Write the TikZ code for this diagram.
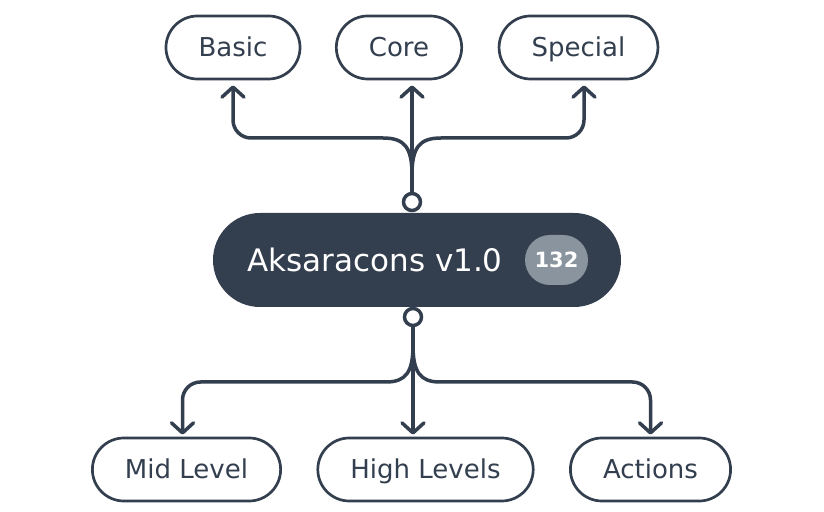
\documentclass[tikz,border=0pt]{standalone}
\usepackage{fontspec}
\setmainfont{DejaVu Sans}
\usetikzlibrary{arrows.meta}
\definecolor{ink}{HTML}{333F4F}
\definecolor{pill}{HTML}{8A949E}
\begin{document}
\begin{tikzpicture}[x=0.5pt,y=-0.5pt,
    leaf/.style={draw=ink, line width=1.35pt, rounded corners=15.75pt,
        minimum height=31.5pt, inner xsep=16.3pt, fill=white, text=ink,
        text height=9.4pt, text depth=0pt,
        font=\fontsize{13}{15}\selectfont},
    hub/.style={fill=ink, rounded corners=23.5pt, minimum width=204pt,
        minimum height=47pt},
    port/.style={circle, draw=ink, fill=white, line width=1.75pt,
        minimum size=8.5pt, inner sep=0pt},
    flow/.style={draw=ink, line width=1.75pt, line cap=round,
        -{Straight Barb[length=5pt,width=11pt,round]}}]
    \useasboundingbox (0,0) rectangle (824,512);
    \node[leaf] (basic) at (233,47.5) {Basic};
    \node[leaf] (core) at (399,47.5) {Core};
    \node[leaf] (special) at (578.5,47.5) {Special};
    \node[hub] (hub) at (417,260) {};
    \node[text=white, text height=11.3pt, text depth=0pt,
        font=\fontsize{15.5}{18}\selectfont] (title) at (375,260) {Aksaracons v1.0};
    \node[fill=pill, rounded corners=12.5pt, minimum width=31.5pt, minimum height=25pt,
        inner sep=0pt, text=white, text height=7.6pt, text depth=0pt,
        font=\bfseries\fontsize{10.5}{12}\selectfont] (count) at (556.5,260) {132};
    \node[port] (topport) at (412,202) {};
    \node[port] (botport) at (413,317) {};
    \node[leaf] (mid) at (186.5,469.5) {Mid Level};
    \node[leaf] (high) at (425.5,469.5) {High Levels};
    \node[leaf] (actions) at (650.5,469.5) {Actions};
    \coordinate (toprail) at (0,138);
    \coordinate (botrail) at (0,382);
    \draw[flow, shorten >=2.5pt] (topport.north) -- (topport.north |- core.south);
    \draw[flow, shorten >=2.5pt] (topport.north) -- (412,175)
        .. controls (412,148) and (405,138) .. (383,138)
        [rounded corners=9pt] -- (basic.south |- toprail) -- (basic.south);
    \draw[flow, shorten >=2.5pt] (topport.north) -- (412,175)
        .. controls (412,148) and (419,138) .. (441,138)
        [rounded corners=9pt] -- ([xshift=2.75pt]special.south |- toprail)
        -- ([xshift=2.75pt]special.south);
    \draw[flow, shorten >=1pt] (botport.south) -- (botport.south |- high.north);
    \draw[flow, shorten >=1pt] (botport.south) -- (413,345)
        .. controls (413,372) and (406,382) .. (386,382)
        [rounded corners=9pt] -- ([xshift=-2pt]mid.north |- botrail)
        -- ([xshift=-2pt]mid.north);
    \draw[flow, shorten >=1pt] (botport.south) -- (413,345)
        .. controls (413,372) and (420,382) .. (440,382)
        [rounded corners=9pt] -- (actions.north |- botrail) -- (actions.north);
\end{tikzpicture}
\end{document}
